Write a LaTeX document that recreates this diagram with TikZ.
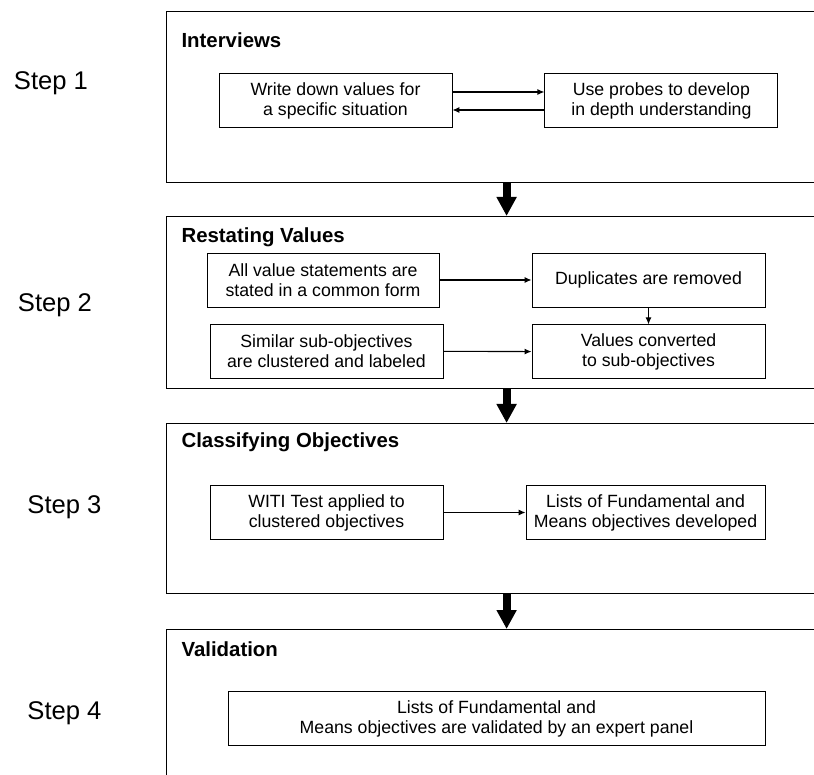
\documentclass[tikz,border=0pt]{standalone}
\usepackage{fontspec}
\setmainfont{Liberation Sans}
\usetikzlibrary{positioning, arrows.meta}

\begin{document}
\begin{tikzpicture}[x=1pt, y=1pt]
    \tikzstyle{panel} = [
        rectangle, draw, line width=1.2pt, anchor=north west,
        inner sep=0pt, minimum width=680pt
    ]

    \tikzstyle{title} = [anchor=west, font=\fontsize{20.4}{24}\selectfont\bfseries]

    \tikzstyle{steplabel} = [font=\fontsize{25.6}{30}\selectfont]

    \tikzstyle{box} = [
        rectangle, draw, line width=0.9pt, align=center, inner sep=0pt,
        minimum width=233pt, minimum height=54pt,
        font=\fontsize{17.7}{20}\selectfont
    ]

    \tikzstyle{flow} = [line width=1.1pt, -{Latex[length=7pt, width=6pt]}]

    \tikzstyle{bigflow} = [line width=8pt, -{Triangle[length=19pt, width=19pt]}]

    \path[use as bounding box, clip] (0,0) rectangle (814,-775);

    % Panels
    \node[panel, minimum height=171pt] (p1) at (166,-11) {};
    \node[panel, minimum height=172pt] (p2) at (166,-216) {};
    \node[panel, minimum height=170pt] (p3) at (166,-423) {};
    \node[panel, minimum height=200pt] (p4) at (166,-629) {};

    \node[title] (t1) at (178,-40) {Interviews};
    \node[title] (t2) at (178,-237) {Restating Values};
    \node[title] (t3) at (178,-442) {Classifying Objectives};
    \node[title] (t4) at (178,-649) {Validation};

    % Step column
    \node[steplabel] (step1) at (51,-83) {Step 1};
    \node[steplabel] (step2) at (55,-305) {Step 2};
    \node[steplabel] (step3) at (64.5,-507) {Step 3};
    \node[steplabel] (step4) at (64.5,-713) {Step 4};

    % Step 1
    \node[box] (write) at (335.5,-100.5) {Write down values for\\a specific situation};
    \node[box, right=92pt of write] (probes) {Use probes to develop\\in depth understanding};

    \draw[flow] ([yshift=8.5pt]write.east) -- ([yshift=8.5pt]probes.west);
    \draw[flow] ([yshift=-9.5pt]probes.west) -- ([yshift=-9.5pt]write.east);

    % Step 2
    \node[box, minimum width=232pt] (common) at (323,-280) {All value statements are\\stated in a common form};
    \node[box] (dupl) at (648.5,-280) {Duplicates are removed};
    \node[box, below=17pt of dupl] (converted) {Values converted\\to sub-objectives};
    \node[box] (cluster) at (326.5,-351) {Similar sub-objectives\\are clustered and labeled};

    \draw[flow] (common) -- (dupl);
    \draw[flow] (dupl) -- (converted);
    \draw[flow] (cluster) -- (converted);

    % Step 3
    \node[box] (witi) at (326.5,-512.5) {WITI Test applied to\\clustered objectives};
    \node[box, minimum width=239pt] (lists) at (645.5,-512.5) {Lists of Fundamental and\\Means objectives developed};

    \draw[flow] (witi) -- (lists);

    % Step 4
    \node[box, minimum width=537pt] (valid) at (496.5,-718.5) {Lists of Fundamental and\\Means objectives are validated by an expert panel};

    % Between the panels
    \draw[bigflow] (p1.south) -- (p2.north);
    \draw[bigflow] (p2.south) -- (p3.north);
    \draw[bigflow] (p3.south) -- (p4.north);

\end{tikzpicture}
\end{document}
